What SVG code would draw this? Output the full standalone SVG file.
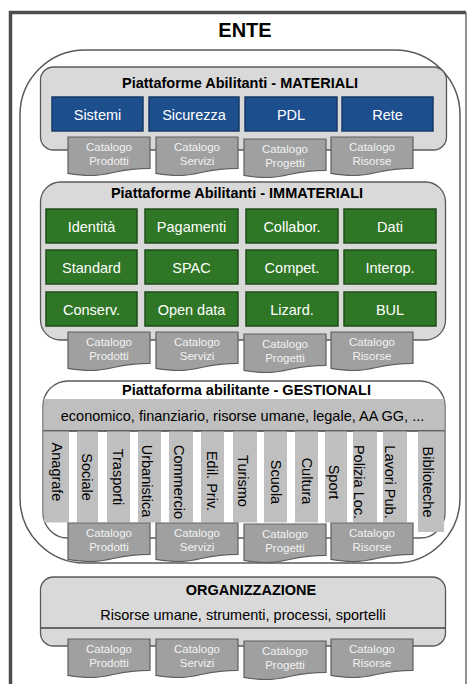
<svg xmlns="http://www.w3.org/2000/svg" xmlns:xlink="http://www.w3.org/1999/xlink" width="469" height="684" viewBox="0 0 469 684">
<style>
text{font-family:"Liberation Sans",Arial,sans-serif;}
.title{font-size:14.5px;font-weight:bold;fill:#000;text-anchor:middle;}
.body{font-size:14.5px;fill:#000;text-anchor:middle;}
.box{font-size:14.5px;fill:#fff;text-anchor:middle;}
.blue{fill:#1d4f8f;stroke:#163a68;stroke-width:1.5;}
.green{fill:#2f7726;stroke:#1f4d19;stroke-width:1.5;}
.panel{fill:#d9d9d9;stroke:#595959;stroke-width:1.3;}
.tab{fill:#a0a0a0;stroke:#5f5f5f;stroke-width:1.2;}
.tabt{font-size:11.5px;fill:#f2f2f2;text-anchor:middle;}
.strip{fill:#bfbfbf;}
.vt{font-size:14.5px;fill:#000;text-anchor:middle;}
</style>
<defs>
<path id="tabshape" d="M0,0 H82 V31.3 C41,31.3 41,43.2 0,36.4 Z"/>
</defs>
<rect width="469" height="684" fill="#fff"/>
<g id="frame">
<path d="M10.5,690 V12.5 H466" fill="none" stroke="#4d4d4d" stroke-width="3.5"/>
<line x1="466" y1="12.5" x2="466" y2="690" stroke="#6d6d6d" stroke-width="1.5"/>
<text x="245" y="37" style="font-size:20px;font-weight:bold;text-anchor:middle;">ENTE</text>
</g>
<g id="contenitore">
<rect x="20" y="50" width="440" height="513" rx="65" ry="65" fill="#fff" stroke="#595959" stroke-width="1.5"/>
</g>
<g id="materiali">
<rect class="panel" x="40.5" y="67" width="406" height="83" rx="13"/>
<text class="title" x="240" y="88">Piattaforme Abilitanti - MATERIALI</text>
<g id="sistemi"><rect class="blue" x="52" y="97" width="91" height="34"/><text class="box" x="97.5" y="119.5">Sistemi</text></g>
<g id="sicurezza"><rect class="blue" x="149" y="97" width="90" height="34"/><text class="box" x="194" y="119.5">Sicurezza</text></g>
<g id="pdl"><rect class="blue" x="245" y="97" width="92" height="34"/><text class="box" x="291" y="119.5">PDL</text></g>
<g id="rete"><rect class="blue" x="342" y="97" width="91" height="34"/><text class="box" x="387.5" y="119.5">Rete</text></g>
<g id="mat-prodotti" transform="translate(68,137)"><use xlink:href="#tabshape" class="tab"/><text class="tabt" x="41" y="14">Catalogo</text><text class="tabt" x="41" y="27.5">Prodotti</text></g>
<g id="mat-servizi" transform="translate(156,137)"><use xlink:href="#tabshape" class="tab"/><text class="tabt" x="41" y="14">Catalogo</text><text class="tabt" x="41" y="27.5">Servizi</text></g>
<g id="mat-progetti" transform="translate(244,139)"><use xlink:href="#tabshape" class="tab"/><text class="tabt" x="41" y="14">Catalogo</text><text class="tabt" x="41" y="27.5">Progetti</text></g>
<g id="mat-risorse" transform="translate(331,137)"><use xlink:href="#tabshape" class="tab"/><text class="tabt" x="41" y="14">Catalogo</text><text class="tabt" x="41" y="27.5">Risorse</text></g>
</g>
<g id="immateriali">
<rect class="panel" x="40.5" y="182" width="405" height="158" rx="20"/>
<text class="title" x="237" y="198">Piattaforme Abilitanti - IMMATERIALI</text>
<g id="identita"><rect class="green" x="46" y="209" width="91" height="34"/><text class="box" x="91.5" y="231.5">Identità</text></g>
<g id="pagamenti"><rect class="green" x="145" y="209" width="93" height="34"/><text class="box" x="191.5" y="231.5">Pagamenti</text></g>
<g id="collabor"><rect class="green" x="246" y="209" width="92" height="34"/><text class="box" x="292" y="231.5">Collabor.</text></g>
<g id="dati"><rect class="green" x="344" y="209" width="92" height="34"/><text class="box" x="390" y="231.5">Dati</text></g>
<g id="standard"><rect class="green" x="46" y="250" width="91" height="34"/><text class="box" x="91.5" y="272.5">Standard</text></g>
<g id="spac"><rect class="green" x="145" y="250" width="93" height="34"/><text class="box" x="191.5" y="272.5">SPAC</text></g>
<g id="compet"><rect class="green" x="246" y="250" width="92" height="34"/><text class="box" x="292" y="272.5">Compet.</text></g>
<g id="interop"><rect class="green" x="344" y="250" width="92" height="34"/><text class="box" x="390" y="272.5">Interop.</text></g>
<g id="conserv"><rect class="green" x="46" y="292" width="91" height="34"/><text class="box" x="91.5" y="314.5">Conserv.</text></g>
<g id="opendata"><rect class="green" x="145" y="292" width="93" height="34"/><text class="box" x="191.5" y="314.5">Open data</text></g>
<g id="lizard"><rect class="green" x="246" y="292" width="92" height="34"/><text class="box" x="292" y="314.5">Lizard.</text></g>
<g id="bul"><rect class="green" x="344" y="292" width="92" height="34"/><text class="box" x="390" y="314.5">BUL</text></g>
<g id="imm-prodotti" transform="translate(68,332)"><use xlink:href="#tabshape" class="tab"/><text class="tabt" x="41" y="14">Catalogo</text><text class="tabt" x="41" y="27.5">Prodotti</text></g>
<g id="imm-servizi" transform="translate(156,332)"><use xlink:href="#tabshape" class="tab"/><text class="tabt" x="41" y="14">Catalogo</text><text class="tabt" x="41" y="27.5">Servizi</text></g>
<g id="imm-progetti" transform="translate(244,334)"><use xlink:href="#tabshape" class="tab"/><text class="tabt" x="41" y="14">Catalogo</text><text class="tabt" x="41" y="27.5">Progetti</text></g>
<g id="imm-risorse" transform="translate(331,332)"><use xlink:href="#tabshape" class="tab"/><text class="tabt" x="41" y="14">Catalogo</text><text class="tabt" x="41" y="27.5">Risorse</text></g>
</g>
<g id="gestionali">
<rect x="43" y="381" width="402" height="157" rx="25" fill="#fff" stroke="#595959" stroke-width="1.3"/>
<text class="title" x="246.5" y="395">Piattaforma abilitante - GESTIONALI</text>
<rect class="strip" x="43.7" y="399" width="400.6" height="32"/>
<line x1="43.5" y1="431" x2="444.5" y2="431" stroke="#404040" stroke-width="1.3"/>
<text class="body" x="242.5" y="421">economico, finanziario, risorse umane, legale, AA GG, ...</text>
<g id="anagrafe"><rect class="strip" x="43.7" y="431.5" width="25.3" height="91"/><text class="vt" transform="translate(57.5,472) rotate(90)" dy="0.35em">Anagrafe</text></g>
<g id="sociale"><rect class="strip" x="77" y="431.5" width="21" height="91"/><text class="vt" transform="translate(87.5,477) rotate(90)" dy="0.35em">Sociale</text></g>
<g id="trasporti"><rect class="strip" x="107" y="431.5" width="23" height="91"/><text class="vt" transform="translate(118,477) rotate(90)" dy="0.35em">Trasporti</text></g>
<g id="urbanistica"><rect class="strip" x="138" y="431.5" width="23" height="91"/><text class="vt" transform="translate(147.5,481) rotate(90)" dy="0.35em">Urbanistica</text></g>
<g id="commercio"><rect class="strip" x="169" y="431.5" width="24" height="91"/><text class="vt" transform="translate(179.5,482) rotate(90)" dy="0.35em">Commercio</text></g>
<g id="edilpriv"><rect class="strip" x="201" y="431.5" width="23" height="91"/><text class="vt" transform="translate(212,481) rotate(90)" dy="0.35em">Edil. Priv.</text></g>
<g id="turismo"><rect class="strip" x="233" y="431.5" width="24" height="91"/><text class="vt" transform="translate(243.5,481) rotate(90)" dy="0.35em">Turismo</text></g>
<g id="scuola"><rect class="strip" x="264" y="431.5" width="23" height="91"/><text class="vt" transform="translate(276,482) rotate(90)" dy="0.35em">Scuola</text></g>
<g id="cultura"><rect class="strip" x="295" y="431.5" width="23" height="91"/><text class="vt" transform="translate(307,481) rotate(90)" dy="0.35em">Cultura</text></g>
<g id="sport"><rect class="strip" x="325" y="431.5" width="22" height="91"/><text class="vt" transform="translate(334.5,482) rotate(90)" dy="0.35em">Sport</text></g>
<g id="polizia"><rect class="strip" x="353" y="431.5" width="24" height="91"/><text class="vt" transform="translate(359.5,482) rotate(90)" dy="0.35em">Polizia Loc.</text></g>
<g id="lavori"><rect class="strip" x="383" y="431.5" width="24" height="91"/><text class="vt" transform="translate(390.5,482) rotate(90)" dy="0.35em">Lavori Pub.</text></g>
<g id="biblioteche"><rect class="strip" x="418" y="431.5" width="26" height="100.5"/><text class="vt" transform="translate(428.5,482) rotate(90)" dy="0.35em">Biblioteche</text></g>
<g id="ges-prodotti" transform="translate(68,523)"><use xlink:href="#tabshape" class="tab"/><text class="tabt" x="41" y="14">Catalogo</text><text class="tabt" x="41" y="27.5">Prodotti</text></g>
<g id="ges-servizi" transform="translate(156,523)"><use xlink:href="#tabshape" class="tab"/><text class="tabt" x="41" y="14">Catalogo</text><text class="tabt" x="41" y="27.5">Servizi</text></g>
<g id="ges-progetti" transform="translate(244,524)"><use xlink:href="#tabshape" class="tab"/><text class="tabt" x="41" y="14">Catalogo</text><text class="tabt" x="41" y="27.5">Progetti</text></g>
<g id="ges-risorse" transform="translate(331,523)"><use xlink:href="#tabshape" class="tab"/><text class="tabt" x="41" y="14">Catalogo</text><text class="tabt" x="41" y="27.5">Risorse</text></g>
</g>
<g id="organizzazione">
<rect class="panel" x="40.5" y="577" width="405" height="69" rx="13"/>
<text class="title" x="251" y="595">ORGANIZZAZIONE</text>
<text class="body" x="243" y="620">Risorse umane, strumenti, processi, sportelli</text>
<line x1="41" y1="628" x2="445" y2="628" stroke="#404040" stroke-width="1.3"/>
<g id="org-prodotti" transform="translate(68,639)"><use xlink:href="#tabshape" class="tab"/><text class="tabt" x="41" y="14">Catalogo</text><text class="tabt" x="41" y="27.5">Prodotti</text></g>
<g id="org-servizi" transform="translate(156,639)"><use xlink:href="#tabshape" class="tab"/><text class="tabt" x="41" y="14">Catalogo</text><text class="tabt" x="41" y="27.5">Servizi</text></g>
<g id="org-progetti" transform="translate(244,641)"><use xlink:href="#tabshape" class="tab"/><text class="tabt" x="41" y="14">Catalogo</text><text class="tabt" x="41" y="27.5">Progetti</text></g>
<g id="org-risorse" transform="translate(331,639)"><use xlink:href="#tabshape" class="tab"/><text class="tabt" x="41" y="14">Catalogo</text><text class="tabt" x="41" y="27.5">Risorse</text></g>
</g>
<g id="connectors"/>
</svg>
